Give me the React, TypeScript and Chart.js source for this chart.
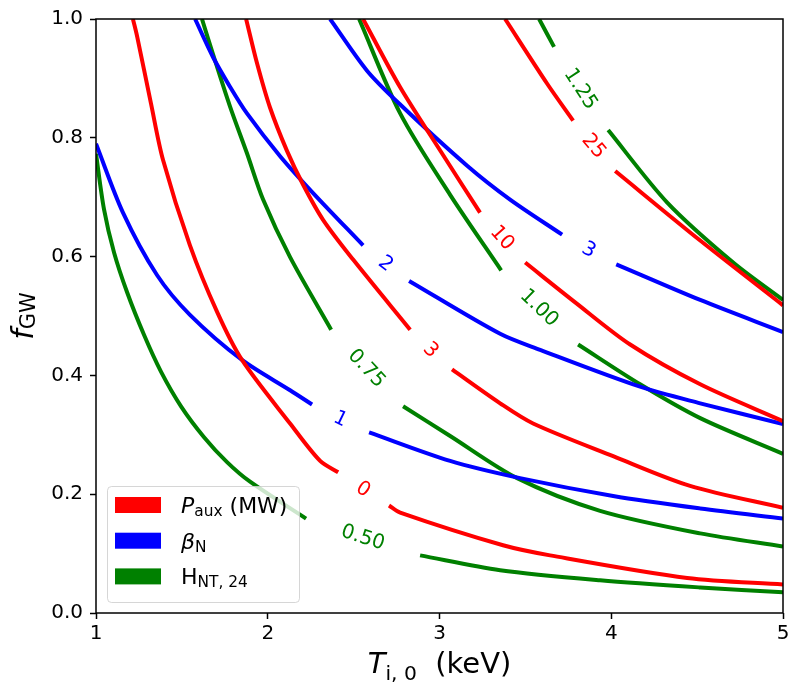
import { useEffect, useRef } from "react"
import { Chart, registerables } from "chart.js"

Chart.register(...registerables)

// contour lines: [T_i0 (keV), f_GW], null = gap for the inline label
type Pt = [number, number] | null

const paux0: Pt[] = [[1.215, 1.0], [1.24, 0.97], [1.32, 0.858], [1.39, 0.763], [1.547, 0.619], [1.705, 0.507], [1.85, 0.426], [2.13, 0.319], [2.305, 0.256], [2.41, 0.237], null, [2.706, 0.181], [2.771, 0.169], [3.37, 0.114], [3.644, 0.097], [4.442, 0.059], [5.0, 0.048]]
const paux3: Pt[] = [[1.874, 1.0], [1.938, 0.925], [2.013, 0.851], [2.112, 0.778], [2.206, 0.721], [2.322, 0.662], [2.497, 0.595], [2.829, 0.477], null, [3.073, 0.41], [3.353, 0.353], [3.545, 0.319], [4.011, 0.264], [4.459, 0.214], [5.0, 0.177]]
const paux10: Pt[] = [[2.555, 1.0], [2.771, 0.885], [3.003, 0.779], [3.236, 0.674], null, [3.499, 0.59], [3.79, 0.523], [4.11, 0.452], [4.518, 0.385], [5.0, 0.323]]
const paux25: Pt[] = [[3.382, 1.0], [3.627, 0.891], [3.778, 0.829], null, [4.023, 0.744], [4.518, 0.627], [5.0, 0.518]]

const betaN1: Pt[] = [[1.0, 0.79], [1.157, 0.674], [1.355, 0.569], [1.547, 0.502], [1.85, 0.426], [2.13, 0.375], [2.258, 0.351], null, [2.59, 0.304], [3.062, 0.256], [3.469, 0.227], [4.011, 0.197], [4.518, 0.176], [5.0, 0.159]]
const betaN2: Pt[] = [[1.577, 1.0], [1.681, 0.936], [1.78, 0.886], [1.879, 0.841], [2.072, 0.769], [2.264, 0.707], [2.555, 0.619], null, [2.823, 0.559], [3.353, 0.47], [3.586, 0.443], [4.168, 0.381], [4.518, 0.353], [5.0, 0.318]]
const betaN3: Pt[] = [[2.363, 1.0], [2.578, 0.913], [2.771, 0.856], [3.161, 0.753], [3.411, 0.696], [3.714, 0.637], null, [4.029, 0.587], [4.518, 0.527], [5.0, 0.473]]

const hnt050: Pt[] = [[1.0, 0.773], [1.047, 0.679], [1.105, 0.607], [1.181, 0.54], [1.28, 0.468], [1.379, 0.406], [1.495, 0.348], [1.629, 0.296], [1.763, 0.254], [1.897, 0.221], [2.223, 0.159], null, [2.887, 0.097], [3.353, 0.072], [3.935, 0.055], [4.518, 0.043], [5.0, 0.035]]
const hnt075: Pt[] = [[1.617, 1.0], [1.681, 0.941], [1.78, 0.853], [1.879, 0.774], [1.973, 0.696], [2.13, 0.599], [2.369, 0.477], null, [2.788, 0.348], [3.062, 0.298], [3.452, 0.227], [3.935, 0.172], [4.518, 0.134], [5.0, 0.112]]
const hnt100: Pt[] = [[2.532, 1.0], [2.771, 0.841], [3.062, 0.704], [3.359, 0.577], null, [3.807, 0.452], [4.168, 0.385], [4.518, 0.328], [5.0, 0.268]]
const hnt125: Pt[] = [[3.58, 1.0], [3.667, 0.953], null, [3.982, 0.813], [4.326, 0.691], [4.71, 0.59], [5.0, 0.527]]

const xTicks = [1, 2, 3, 4, 5]
const yTicks = [0, 0.2, 0.4, 0.6, 0.8, 1.0]

const RED = "#ff0000"
const BLUE = "#0000ff"
const GREEN = "#008000"
const FONT = '"DejaVu Sans", sans-serif'

const contours = [
  { level: "0", color: RED, pts: paux0 },
  { level: "3", color: RED, pts: paux3 },
  { level: "10", color: RED, pts: paux10 },
  { level: "25", color: RED, pts: paux25 },
  { level: "1", color: BLUE, pts: betaN1 },
  { level: "2", color: BLUE, pts: betaN2 },
  { level: "3", color: BLUE, pts: betaN3 },
  { level: "0.50", color: GREEN, pts: hnt050 },
  { level: "0.75", color: GREEN, pts: hnt075 },
  { level: "1.00", color: GREEN, pts: hnt100 },
  { level: "1.25", color: GREEN, pts: hnt125 },
]

type Run = { t: string; it?: boolean; sub?: boolean }

const legendItems: { color: string; runs: Run[] }[] = [
  { color: RED, runs: [{ t: "P", it: true }, { t: "aux", sub: true }, { t: " (MW)" }] },
  { color: BLUE, runs: [{ t: "β", it: true }, { t: "N", sub: true }] },
  { color: GREEN, runs: [{ t: "H" }, { t: "NT, 24", sub: true }] },
]

const xTitle: Run[] = [{ t: "T", it: true }, { t: "i, 0", sub: true }, { t: "  (keV)" }]
const yTitle: Run[] = [{ t: "f", it: true }, { t: "GW", sub: true }]

function drawRuns(ctx: CanvasRenderingContext2D, runs: Run[], x: number, y: number, size: number, shift: number, center: boolean) {
  const fontOf = (r: Run) => `${r.it ? "italic " : ""}${r.sub ? size * 0.7 : size}px ${FONT}`
  let total = 0
  for (const r of runs) {
    ctx.font = fontOf(r)
    total += ctx.measureText(r.t).width
  }
  let cx = center ? x - total / 2 : x
  ctx.textAlign = "left"
  ctx.textBaseline = "alphabetic"
  for (const r of runs) {
    ctx.font = fontOf(r)
    ctx.fillText(r.t, cx, r.sub ? y + shift : y)
    cx += ctx.measureText(r.t).width
  }
}

const decorations = {
  id: "decorations",
  afterDatasetsDraw(chart: any) {
    const ctx: CanvasRenderingContext2D = chart.ctx
    const xs = chart.scales.x
    const ys = chart.scales.y
    const area = chart.chartArea

    // inline contour labels in the gaps
    ctx.save()
    contours.forEach((c) => {
      const i = c.pts.indexOf(null)
      if (i < 1) return
      const a = c.pts[i - 1] as [number, number]
      const b = c.pts[i + 1] as [number, number]
      const ax = xs.getPixelForValue(a[0]), ay = ys.getPixelForValue(a[1])
      const bx = xs.getPixelForValue(b[0]), by = ys.getPixelForValue(b[1])
      let ang = Math.atan2(by - ay, bx - ax)
      if (ang > Math.PI / 2) ang -= Math.PI
      if (ang < -Math.PI / 2) ang += Math.PI
      ctx.save()
      ctx.translate((ax + bx) / 2, (ay + by) / 2)
      ctx.rotate(ang)
      ctx.fillStyle = c.color
      ctx.font = `20px ${FONT}`
      ctx.textAlign = "center"
      ctx.textBaseline = "middle"
      ctx.fillText(c.level, 0, 1)
      ctx.restore()
    })
    ctx.restore()

    // frame
    ctx.save()
    ctx.strokeStyle = "#000"
    ctx.lineWidth = 1.5
    ctx.strokeRect(area.left, area.top, area.right - area.left, area.bottom - area.top)
    ctx.restore()

    // legend
    const lx = area.left + 11
    const ly = area.bottom - 127
    const lw = 192
    const lh = 116
    ctx.save()
    ctx.beginPath()
    ctx.roundRect(lx + 0.5, ly + 0.5, lw, lh, 4)
    ctx.fillStyle = "rgba(255,255,255,0.8)"
    ctx.fill()
    ctx.strokeStyle = "rgba(204,204,204,0.8)"
    ctx.lineWidth = 1
    ctx.stroke()
    legendItems.forEach((it, k) => {
      const cy = ly + 19 + k * 35.7
      ctx.fillStyle = it.color
      ctx.fillRect(lx + 8, cy - 8, 46, 16)
      ctx.fillStyle = "#000"
      drawRuns(ctx, it.runs, lx + 74, cy + 8, 22, 3, false)
    })
    ctx.restore()

    // axis titles
    ctx.save()
    ctx.fillStyle = "#000"
    drawRuns(ctx, xTitle, (area.left + area.right) / 2, 673, 29, 7, true)
    ctx.translate(33, (area.top + area.bottom) / 2)
    ctx.rotate(-Math.PI / 2)
    drawRuns(ctx, yTitle, 0, 0, 30, 2, true)
    ctx.restore()
  },
}

export default function App() {
  const chartRef = useRef<HTMLCanvasElement>(null)
  const chartInstance = useRef<Chart | null>(null)

  useEffect(() => {
    if (!chartRef.current) return
    if (chartInstance.current) chartInstance.current.destroy()
    const ctx = chartRef.current.getContext("2d")
    if (!ctx) return

    const datasets = contours.map((c) => ({
      label: c.level,
      data: c.pts.map((p, i) => {
        if (p) return { x: p[0], y: p[1] }
        const a = c.pts[i - 1] as [number, number]
        const b = c.pts[i + 1] as [number, number]
        return { x: (a[0] + b[0]) / 2, y: null }
      }),
      borderColor: c.color,
      backgroundColor: c.color,
      borderWidth: 4,
      pointRadius: 0,
      showLine: true,
      spanGaps: false,
      tension: 0.3,
      fill: false,
    }))

    chartInstance.current = new Chart(ctx, {
      type: "scatter",
      data: { datasets: datasets as any },
      options: {
        responsive: false,
        animation: false,
        layout: { padding: { left: 0, top: 15, right: 17, bottom: 0 } },
        plugins: {
          legend: { display: false },
          tooltip: { enabled: false },
        },
        scales: {
          x: {
            type: "linear",
            min: 1,
            max: 5,
            afterFit: (s: any) => { s.height = 78 },
            afterBuildTicks: (s: any) => { s.ticks = xTicks.map((v) => ({ value: v })) },
            ticks: {
              color: "#000",
              font: { family: FONT, size: 20 },
              padding: 3,
              maxRotation: 0,
              callback: (v) => String(v),
            },
            grid: { drawOnChartArea: false, tickLength: 6, tickColor: "#000", tickWidth: 1.5, color: "#000" },
            border: { display: false },
          },
          y: {
            type: "linear",
            min: 0,
            max: 1,
            afterFit: (s: any) => { s.width = 96 },
            afterBuildTicks: (s: any) => { s.ticks = yTicks.map((v) => ({ value: v })) },
            ticks: {
              color: "#000",
              font: { family: FONT, size: 20 },
              padding: 7,
              callback: (v) => Number(v).toFixed(1),
            },
            grid: { drawOnChartArea: false, tickLength: 6, tickColor: "#000", tickWidth: 1.5, color: "#000" },
            border: { display: false },
          },
        },
      },
      plugins: [decorations],
    })

    return () => {
      if (chartInstance.current) {
        chartInstance.current.destroy()
        chartInstance.current = null
      }
    }
  }, [])

  return (
    <div style={{ position: "fixed", left: 0, top: 0, width: 800, height: 691, background: "#fff" }}>
      <canvas ref={chartRef} width={800} height={691} />
    </div>
  )
}
